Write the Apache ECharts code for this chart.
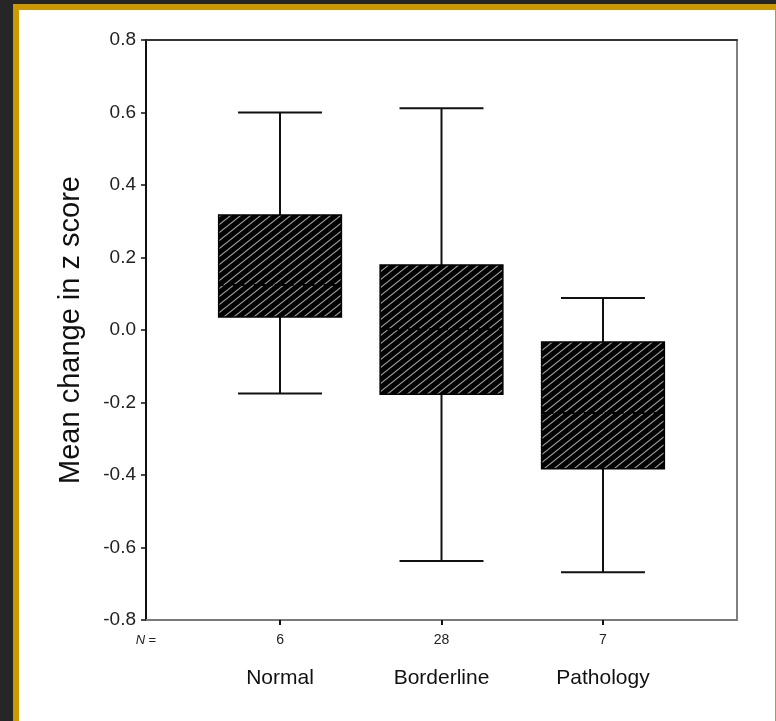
<!DOCTYPE html>
<html>
<head>
<meta charset="utf-8">
<script src="https://cdn.jsdelivr.net/npm/echarts@6/dist/echarts.min.js"></script>
<style>
  html, body { margin:0; padding:0; width:776px; height:721px; overflow:hidden; background:#262626; }
  #frame { position:absolute; left:13px; top:4px; width:800px; height:760px; box-sizing:border-box;
           border:6px solid #cc9900; background:#ffffff; }
  #frame2 { position:absolute; left:775px; top:10px; width:1px; height:711px; background:#cc9900; }
  #chart { position:absolute; left:0; top:0; width:776px; height:721px; }
</style>
</head>
<body>
<div id="frame"></div>
<div id="frame2"></div>
<div id="chart"></div>
<script>
// ---- data ----
const categories = ['Normal', 'Borderline', 'Pathology'];
const nCounts = ['6', '28', '7'];
const whiskerLow  = [-0.175, -0.637, -0.668];
const q1          = [0.036, -0.177, -0.383];
const median      = [0.124, 0.002, -0.229];
const q3          = [0.317, 0.179, -0.033];
const whiskerHigh = [0.600, 0.612, 0.088];
const yTicks = { min: -0.8, max: 0.8, step: 0.2 };

// ---- hatch pattern ----
function makeHatch() {
  const w = 10, h = 8;
  const c = document.createElement('canvas');
  c.width = w; c.height = h;
  const g = c.getContext('2d');
  g.fillStyle = '#000';
  g.fillRect(0, 0, w, h);
  g.strokeStyle = '#999999';
  g.lineWidth = 1.2;
  [-w, 0, w].forEach(function (dx) {
    g.beginPath();
    g.moveTo(-w + dx, 2 * h);
    g.lineTo(2 * w + dx, -h);
    g.stroke();
  });
  return c;
}
const hatch = makeHatch();

const boxData = categories.map(function (c, i) {
  return [i + 1, whiskerLow[i], q1[i], median[i], q3[i], whiskerHigh[i]];
});

const BOX_HALF = 0.38, CAP_HALF = 0.26;
const FONT = "'Liberation Sans', Arial, sans-serif";

const chart = echarts.init(document.getElementById('chart'), null, { renderer: 'canvas' });

chart.setOption({
  backgroundColor: 'transparent',
  animation: false,
  grid: { left: 146, top: 40, right: 39, bottom: 101, containLabel: false },
  xAxis: [{
    type: 'value', min: 0.17, max: 3.83, position: 'bottom',
    splitLine: { show: false },
    axisLine: { show: true, onZero: false, lineStyle: { color: '#7a7a7a', width: 2 } },
    axisTick: { show: true, customValues: [1, 2, 3], length: 5, lineStyle: { color: '#111', width: 2 } },
    axisLabel: {
      show: true, customValues: [0.17, 1, 2, 3], margin: 5, color: '#222', fontFamily: FONT,
      formatter: function (v) {
        if (v < 0.5) return '{ni|N} {ne|=}';
        const i = Math.round(v) - 1;
        return '{n|' + nCounts[i] + '}\n{c|' + categories[i] + '}';
      },
      rich: {
        ni: { fontSize: 13, fontStyle: 'italic', fontFamily: FONT, color: '#222', lineHeight: 30 },
        ne: { fontSize: 13, fontFamily: FONT, color: '#222', lineHeight: 30 },
        n:  { fontSize: 14, fontFamily: FONT, color: '#222', lineHeight: 30 },
        c:  { fontSize: 21, fontFamily: FONT, color: '#111', lineHeight: 46 }
      }
    }
  }, {
    type: 'value', min: 0.17, max: 3.83, position: 'top',
    splitLine: { show: false },
    axisLine: { show: true, onZero: false, lineStyle: { color: '#333', width: 2 } },
    axisTick: { show: false }, axisLabel: { show: false }
  }],
  yAxis: [{
    type: 'value', min: yTicks.min, max: yTicks.max, interval: yTicks.step, position: 'left',
    name: 'Mean change in z score', nameLocation: 'middle', nameGap: 61,
    nameTextStyle: { fontSize: 29, fontFamily: FONT, color: '#111' },
    splitLine: { show: false },
    axisLine: { show: true, onZero: false, lineStyle: { color: '#111', width: 2 } },
    axisTick: { show: true, length: 5, lineStyle: { color: '#111', width: 1.5 } },
    axisLabel: {
      margin: 10, fontSize: 19, fontFamily: FONT, color: '#222',
      formatter: function (v) { return v.toFixed(1); }
    }
  }, {
    type: 'value', min: yTicks.min, max: yTicks.max, interval: yTicks.step, position: 'right',
    splitLine: { show: false },
    axisLine: { show: true, onZero: false, lineStyle: { color: '#808080', width: 2 } },
    axisTick: { show: false }, axisLabel: { show: false }
  }],
  series: [{
    type: 'custom',
    xAxisIndex: 0, yAxisIndex: 0,
    data: boxData,
    renderItem: function (params, api) {
      const x = api.value(0);
      const lo = api.coord([x, api.value(1)]);
      const b1 = api.coord([x - BOX_HALF, api.value(2)]);
      const b2 = api.coord([x + BOX_HALF, api.value(4)]);
      const med = api.value(3);
      const m1 = api.coord([x - BOX_HALF, med]);
      const m2 = api.coord([x + BOX_HALF, med]);
      const hi = api.coord([x, api.value(5)]);
      const c1 = api.coord([x - CAP_HALF, 0]);
      const c2 = api.coord([x + CAP_HALF, 0]);
      const ls = { stroke: '#111', lineWidth: 2 };
      return {
        type: 'group',
        children: [
          { type: 'line', shape: { x1: lo[0], y1: lo[1], x2: lo[0], y2: b1[1] }, style: ls },
          { type: 'line', shape: { x1: hi[0], y1: hi[1], x2: hi[0], y2: b2[1] }, style: ls },
          { type: 'line', shape: { x1: c1[0], y1: lo[1], x2: c2[0], y2: lo[1] }, style: ls },
          { type: 'line', shape: { x1: c1[0], y1: hi[1], x2: c2[0], y2: hi[1] }, style: ls },
          { type: 'rect', shape: { x: b1[0], y: b2[1], width: b2[0] - b1[0], height: b1[1] - b2[1] },
            style: { fill: { image: hatch, repeat: 'repeat' }, stroke: '#000', lineWidth: 1.5 } },
          { type: 'line', shape: { x1: m1[0], y1: m1[1], x2: m2[0], y2: m2[1] },
            style: { stroke: '#000', lineWidth: 2, lineDash: [5, 2] } }
        ]
      };
    }
  }]
});
</script>
</body>
</html>
